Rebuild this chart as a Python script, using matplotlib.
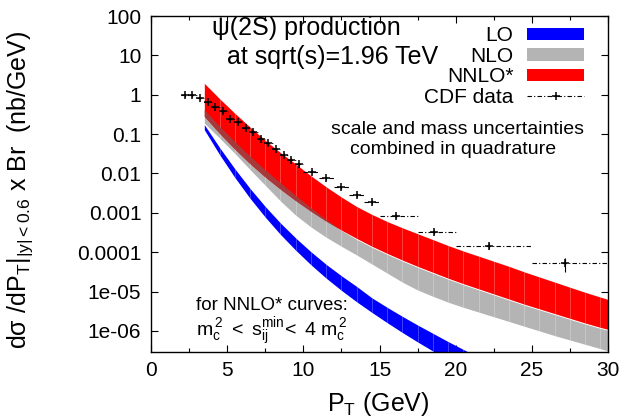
import matplotlib
matplotlib.use('Agg')
import matplotlib.pyplot as plt
import numpy as np
from matplotlib.patches import Patch
from matplotlib.lines import Line2D
from matplotlib.ticker import FixedLocator, FixedFormatter, MultipleLocator

plt.rcParams['font.family'] = ['Liberation Sans', 'DejaVu Sans']
plt.rcParams['mathtext.fontset'] = 'custom'
plt.rcParams['mathtext.rm'] = 'Liberation Sans'
plt.rcParams['mathtext.it'] = 'Liberation Sans:italic'

# theory grid (GeV), band edges given as log10 of dsigma/dpT
pt_grid = [3.5, 4.5, 5.5, 6.5, 7.5, 8.5, 9.5, 10.5, 11.5, 12.5, 13.5, 14.5, 15.5, 16.5,
           17.5, 18.5, 19.5, 20.5, 21.5, 22.5, 23.5, 24.5, 25.5, 26.5, 27.5, 28.5, 29.5, 30.0]

nnlo_hi_log = [0.29, -0.10, -0.47, -0.82, -1.16, -1.47, -1.76, -2.06, -2.34, -2.60, -2.84, -3.04,
               -3.22, -3.38, -3.53, -3.68, -3.83, -3.97, -4.10, -4.23, -4.36, -4.50, -4.63, -4.76,
               -4.89, -5.02, -5.14, -5.20]
nnlo_lo_log = [-0.55, -0.98, -1.38, -1.75, -2.09, -2.40, -2.69, -2.96, -3.21, -3.44, -3.65, -3.85,
               -4.03, -4.20, -4.36, -4.51, -4.66, -4.80, -4.93, -5.06, -5.19, -5.32, -5.44, -5.56,
               -5.68, -5.80, -5.91, -5.96]
nlo_hi_log = [-0.38, -0.80, -1.19, -1.56, -1.91, -2.24, -2.56, -2.87, -3.17, -3.45, -3.675, -3.875,
              -4.055, -4.225, -4.385, -4.535, -4.685, -4.825, -4.955, -5.085, -5.215, -5.345, -5.465,
              -5.585, -5.705, -5.825, -5.935, -5.985]
nlo_lo_log = [-0.72, -1.10, -1.49, -1.90, -2.30, -2.70, -3.06, -3.36, -3.62, -3.85, -4.07, -4.30,
              -4.53, -4.76, -4.96, -5.12, -5.27, -5.40, -5.52, -5.64, -5.76, -5.88, -6.00, -6.12,
              -6.23, -6.34, -6.45, -6.51]

lo_pt = [3.5, 4.5, 5.5, 6.5, 7.5, 8.5, 9.5, 10.5, 11.5, 12.5, 13.5, 14.5, 15.5, 16.5, 17.5,
         18.5, 19.5, 20.5, 21.5]
lo_hi_log = [-0.76, -1.34, -1.88, -2.38, -2.84, -3.26, -3.64, -3.99, -4.31, -4.60, -4.87, -5.16,
             -5.40, -5.63, -5.85, -6.06, -6.27, -6.47, -6.67]
lo_lo_log = [-0.89, -1.52, -2.10, -2.63, -3.11, -3.55, -3.95, -4.32, -4.66, -4.97, -5.26, -5.53,
             -5.79, -6.04, -6.28, -6.51, -6.73, -6.94, -7.15]

# CDF psi(2S) data
cdf_pt = [2.23, 2.71, 3.19, 3.71, 4.21, 4.71, 5.21, 5.71, 6.21, 6.71, 7.21, 7.71, 8.21, 8.71,
          9.21, 9.71, 10.6, 11.5, 12.5, 13.5, 14.5, 16.1, 18.6, 22.2, 27.2]
cdf_bin_lo = [2.0, 2.5, 3.0, 3.5, 4.0, 4.5, 5.0, 5.5, 6.0, 6.5, 7.0, 7.5, 8.0, 8.5, 9.0, 9.5,
              10.0, 11.0, 12.0, 13.0, 14.0, 15.0, 17.5, 20.0, 25.0]
cdf_bin_hi = [2.5, 3.0, 3.5, 4.0, 4.5, 5.0, 5.5, 6.0, 6.5, 7.0, 7.5, 8.0, 8.5, 9.0, 9.5, 10.0,
              11.0, 12.0, 13.0, 14.0, 15.0, 17.5, 20.0, 25.0, 30.0]
cdf_val = [0.96, 0.96, 0.84, 0.64, 0.49, 0.376, 0.245, 0.20, 0.145, 0.112, 0.076, 0.059, 0.0415,
           0.0297, 0.0222, 0.0172, 0.0112, 0.0076, 0.00448, 0.00285, 0.00186, 0.000834, 0.000333,
           0.000147, 5.2e-5]
cdf_err = [0.08, 0.07, 0.06, 0.05, 0.04, 0.03, 0.02, 0.017, 0.012, 0.009, 0.006, 0.005, 0.0035,
           0.0025, 0.002, 0.0015, 0.001, 0.0007, 0.0004, 0.0003, 0.0002, 9e-5, 4e-5, 2.5e-5, 2e-5]

ytick_vals = [1e-6, 1e-5, 1e-4, 1e-3, 1e-2, 1e-1, 1, 10, 100]
ytick_labels = ['1e-06', '1e-05', '0.0001', '0.001', '0.01', '0.1', '1', '10', '100']
xtick_vals = [0, 5, 10, 15, 20, 25, 30]

col_lo = '#0000ff'
col_nlo = '#b4b4b4'
col_nnlo = '#ff0000'
col_overlap = '#a63a3a'
cdf_dash = (0, (4, 2, 1, 2))

pt = np.array(pt_grid)
nnlo_hi = 10 ** np.array(nnlo_hi_log)
nnlo_lo = 10 ** np.array(nnlo_lo_log)
nlo_hi = 10 ** np.array(nlo_hi_log)
nlo_lo = 10 ** np.array(nlo_lo_log)
lpt = np.array(lo_pt)
lo_hi = 10 ** np.array(lo_hi_log)
lo_lo = 10 ** np.array(lo_lo_log)

fig = plt.figure(figsize=(6.24, 4.2), dpi=100)
ax = fig.add_axes([151 / 624, 1 - 351.5 / 420, 457 / 624, 335.5 / 420])


def draw_band(x, lo, hi, color):
    ax.fill_between(x, lo, hi, color=color, lw=0, zorder=2)
    # gnuplot leaves faint seams at every sample of a filled curve
    ax.vlines(x[1:-1], lo[1:-1], hi[1:-1], color='white', alpha=0.25, lw=0.7, zorder=2.1)


draw_band(lpt, lo_lo, lo_hi, col_lo)
draw_band(pt, nlo_lo, nlo_hi, col_nlo)
draw_band(pt, nnlo_lo, nnlo_hi, col_nnlo)
overlap = nlo_hi > nnlo_lo
ax.fill_between(pt, nnlo_lo, np.minimum(nlo_hi, nnlo_hi), where=overlap, interpolate=True,
                color=col_overlap, lw=0, zorder=2.2)

xerr = [np.array(cdf_pt) - np.array(cdf_bin_lo), np.array(cdf_bin_hi) - np.array(cdf_pt)]
eb = ax.errorbar(cdf_pt, cdf_val, xerr=xerr, yerr=cdf_err, fmt='+', color='black', ms=6,
                 mew=1.1, elinewidth=0.8, capsize=0, zorder=4)
eb[2][0].set_linestyle(cdf_dash)

ax.set_yscale('log')
ax.set_xlim(0, 30)
ax.set_ylim(3e-7, 100)
ax.yaxis.set_major_locator(FixedLocator(ytick_vals))
ax.yaxis.set_major_formatter(FixedFormatter(ytick_labels))
ax.xaxis.set_major_locator(FixedLocator(xtick_vals))
ax.xaxis.set_minor_locator(MultipleLocator(2.5))
ax.tick_params(which='both', direction='in', top=True, right=True, labelsize=15, width=0.8)
ax.tick_params(which='major', length=5, pad=7)
ax.tick_params(which='minor', length=3)
for s in ax.spines.values():
    s.set_linewidth(1.0)

fig.text(212 / 624, 1 - 28 / 420, 'ψ(2S) production', fontsize=18, va='center', ha='left')
fig.text(227 / 624, 1 - 57 / 420, 'at sqrt(s)=1.96 TeV', fontsize=18, va='center', ha='left')
fig.text(458 / 624, 1 - 129 / 420, 'scale and mass uncertainties', fontsize=14, va='center', ha='center')
fig.text(453 / 624, 1 - 150 / 420, 'combined in quadrature', fontsize=14, va='center', ha='center')
fig.text(196 / 624, 1 - 305 / 420, 'for NNLO* curves:', fontsize=13.5, va='center', ha='left')
fig.text(196 / 624, 1 - 332 / 420,
         r'$\mathregular{m_c^{\,2}\ <\ s_{ij}^{min}\!<\ 4\ m_c^{\,2}}$',
         fontsize=14, va='center', ha='left')

fig.text(20 / 624, 1 - 190 / 420,
         r'$\mathregular{d\sigma\ /dP_T|_{|y|<0.6}\ x\ Br\ \ (nb/GeV)}$',
         fontsize=18, rotation=90, va='center', ha='center')
fig.text(378 / 624, 1 - 404 / 420, r'$\mathregular{P_T\ (GeV)}$', fontsize=18, va='center', ha='center')

cdf_handle = Line2D([0, 0.5, 1], [0, 0, 0], color='black', ls=cdf_dash, lw=0.8, marker='+',
                    ms=6, mew=1.1, markevery=[1])
handles = [Patch(facecolor=col_lo, edgecolor='none'),
           Patch(facecolor=col_nlo, edgecolor='none'),
           Patch(facecolor=col_nnlo, edgecolor='none'),
           cdf_handle]
leg = ax.legend(handles, ['LO', 'NLO', 'NNLO*', 'CDF data'], loc='upper right',
                bbox_to_anchor=(0.948, 0.969), frameon=False, markerfirst=False, fontsize=15,
                handlelength=2.75, handleheight=0.55, handletextpad=0.65, labelspacing=0.07,
                borderpad=0, borderaxespad=0)

fig.savefig('out.png', dpi=100)
